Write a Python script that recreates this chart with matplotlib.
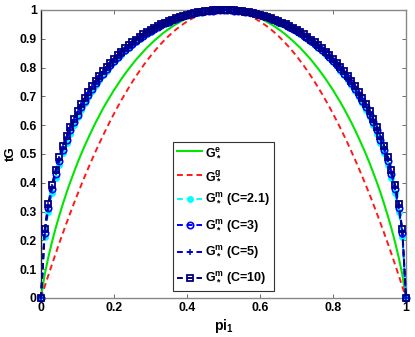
import numpy as np
import matplotlib
matplotlib.use("Agg")
import matplotlib.pyplot as plt

plt.rcParams['font.family'] = ['Liberation Sans', 'DejaVu Sans']
plt.rcParams['font.weight'] = 'bold'
plt.rcParams['mathtext.fontset'] = 'custom'
plt.rcParams['mathtext.rm'] = 'Liberation Sans:bold'
plt.rcParams['mathtext.bf'] = 'Liberation Sans:bold'
plt.rcParams['mathtext.it'] = 'Liberation Sans:bold'
plt.rcParams['mathtext.default'] = 'bf'

# x grid (pi_1)
pi1 = [i / 100 for i in range(101)]

# G_*^e
g_e = [0, 0.081, 0.141, 0.194, 0.242, 0.286, 0.327, 0.366, 0.402, 0.436,
       0.469, 0.500, 0.529, 0.557, 0.584, 0.610, 0.634, 0.658, 0.680, 0.701,
       0.722, 0.741, 0.760, 0.778, 0.795, 0.811, 0.827, 0.841, 0.855, 0.869,
       0.881, 0.893, 0.904, 0.915, 0.925, 0.934, 0.943, 0.951, 0.958, 0.965,
       0.971, 0.977, 0.981, 0.986, 0.990, 0.993, 0.995, 0.997, 0.999, 1.000,
       1.000,
       1.000, 0.999, 0.997, 0.995, 0.993, 0.990, 0.986, 0.981, 0.977, 0.971,
       0.965, 0.958, 0.951, 0.943, 0.934, 0.925, 0.915, 0.904, 0.893, 0.881,
       0.869, 0.855, 0.841, 0.827, 0.811, 0.795, 0.778, 0.760, 0.741, 0.722,
       0.701, 0.680, 0.658, 0.634, 0.610, 0.584, 0.557, 0.529, 0.500, 0.469,
       0.436, 0.402, 0.366, 0.327, 0.286, 0.242, 0.194, 0.141, 0.081, 0]

# G_*^g
g_g = [0, 0.0396, 0.0784, 0.1164, 0.1536, 0.19, 0.2256, 0.2604, 0.2944, 0.3276,
       0.36, 0.3916, 0.4224, 0.4524, 0.4816, 0.51, 0.5376, 0.5644, 0.5904, 0.6156,
       0.64, 0.6636, 0.6864, 0.7084, 0.7296, 0.75, 0.7696, 0.7884, 0.8064, 0.8236,
       0.84, 0.8556, 0.8704, 0.8844, 0.8976, 0.91, 0.9216, 0.9324, 0.9424, 0.9516,
       0.96, 0.9676, 0.9744, 0.9804, 0.9856, 0.99, 0.9936, 0.9964, 0.9984, 0.9996,
       1.0,
       0.9996, 0.9984, 0.9964, 0.9936, 0.99, 0.9856, 0.9804, 0.9744, 0.9676, 0.96,
       0.9516, 0.9424, 0.9324, 0.9216, 0.91, 0.8976, 0.8844, 0.8704, 0.8556, 0.84,
       0.8236, 0.8064, 0.7884, 0.7696, 0.75, 0.7296, 0.7084, 0.6864, 0.6636, 0.64,
       0.6156, 0.5904, 0.5644, 0.5376, 0.51, 0.4816, 0.4524, 0.4224, 0.3916, 0.36,
       0.3276, 0.2944, 0.2604, 0.2256, 0.19, 0.1536, 0.1164, 0.0784, 0.0396, 0]

# G_*^m (C=2.1)
g_m21 = [0, 0.213, 0.300, 0.365, 0.418, 0.463, 0.503, 0.539, 0.571, 0.601,
         0.628, 0.653, 0.676, 0.698, 0.719, 0.738, 0.756, 0.773, 0.789, 0.804,
         0.818, 0.832, 0.845, 0.857, 0.868, 0.879, 0.890, 0.899, 0.908, 0.917,
         0.925, 0.933, 0.940, 0.947, 0.953, 0.959, 0.964, 0.969, 0.974, 0.978,
         0.982, 0.985, 0.989, 0.991, 0.994, 0.996, 0.997, 0.998, 0.999, 1.000,
         1.000,
         1.000, 0.999, 0.998, 0.997, 0.996, 0.994, 0.991, 0.989, 0.985, 0.982,
         0.978, 0.974, 0.969, 0.964, 0.959, 0.953, 0.947, 0.940, 0.933, 0.925,
         0.917, 0.908, 0.899, 0.890, 0.879, 0.868, 0.857, 0.845, 0.832, 0.818,
         0.804, 0.789, 0.773, 0.756, 0.738, 0.719, 0.698, 0.676, 0.653, 0.628,
         0.601, 0.571, 0.539, 0.503, 0.463, 0.418, 0.365, 0.300, 0.213, 0]

# G_*^m (C=3)
g_m3 = [0, 0.224, 0.312, 0.377, 0.430, 0.475, 0.515, 0.550, 0.582, 0.611,
        0.637, 0.662, 0.685, 0.706, 0.726, 0.745, 0.763, 0.779, 0.795, 0.810,
        0.824, 0.837, 0.849, 0.861, 0.872, 0.883, 0.893, 0.902, 0.911, 0.920,
        0.928, 0.935, 0.942, 0.948, 0.955, 0.960, 0.965, 0.970, 0.975, 0.979,
        0.983, 0.986, 0.989, 0.992, 0.994, 0.996, 0.997, 0.998, 0.999, 1.000,
        1.000,
        1.000, 0.999, 0.998, 0.997, 0.996, 0.994, 0.992, 0.989, 0.986, 0.983,
        0.979, 0.975, 0.970, 0.965, 0.960, 0.955, 0.948, 0.942, 0.935, 0.928,
        0.920, 0.911, 0.902, 0.893, 0.883, 0.872, 0.861, 0.849, 0.837, 0.824,
        0.810, 0.795, 0.779, 0.763, 0.745, 0.726, 0.706, 0.685, 0.662, 0.637,
        0.611, 0.582, 0.550, 0.515, 0.475, 0.430, 0.377, 0.312, 0.224, 0]

# G_*^m (C=5)
g_m5 = [0, 0.232, 0.322, 0.387, 0.439, 0.484, 0.523, 0.558, 0.590, 0.618,
        0.645, 0.669, 0.691, 0.713, 0.732, 0.751, 0.768, 0.784, 0.800, 0.814,
        0.828, 0.841, 0.853, 0.865, 0.875, 0.886, 0.896, 0.905, 0.913, 0.922,
        0.929, 0.937, 0.943, 0.950, 0.956, 0.961, 0.966, 0.971, 0.975, 0.979,
        0.983, 0.986, 0.989, 0.992, 0.994, 0.996, 0.997, 0.998, 0.999, 1.000,
        1.000,
        1.000, 0.999, 0.998, 0.997, 0.996, 0.994, 0.992, 0.989, 0.986, 0.983,
        0.979, 0.975, 0.971, 0.966, 0.961, 0.956, 0.950, 0.943, 0.937, 0.929,
        0.922, 0.913, 0.905, 0.896, 0.886, 0.875, 0.865, 0.853, 0.841, 0.828,
        0.814, 0.800, 0.784, 0.768, 0.751, 0.732, 0.713, 0.691, 0.669, 0.645,
        0.618, 0.590, 0.558, 0.523, 0.484, 0.439, 0.387, 0.322, 0.232, 0]

# G_*^m (C=10)
g_m10 = [0, 0.238, 0.328, 0.393, 0.446, 0.490, 0.529, 0.564, 0.595, 0.623,
         0.649, 0.674, 0.696, 0.717, 0.736, 0.754, 0.771, 0.788, 0.803, 0.817,
         0.831, 0.843, 0.855, 0.867, 0.877, 0.888, 0.897, 0.906, 0.915, 0.923,
         0.931, 0.938, 0.944, 0.951, 0.956, 0.962, 0.967, 0.972, 0.976, 0.980,
         0.983, 0.987, 0.989, 0.992, 0.994, 0.996, 0.997, 0.999, 0.999, 1.000,
         1.000,
         1.000, 0.999, 0.999, 0.997, 0.996, 0.994, 0.992, 0.989, 0.987, 0.983,
         0.980, 0.976, 0.972, 0.967, 0.962, 0.956, 0.951, 0.944, 0.938, 0.931,
         0.923, 0.915, 0.906, 0.897, 0.888, 0.877, 0.867, 0.855, 0.843, 0.831,
         0.817, 0.803, 0.788, 0.771, 0.754, 0.736, 0.717, 0.696, 0.674, 0.649,
         0.623, 0.595, 0.564, 0.529, 0.490, 0.446, 0.393, 0.328, 0.238, 0]

xticks = [0, 0.2, 0.4, 0.6, 0.8, 1]
xticklabels = ['0', '0.2', '0.4', '0.6', '0.8', '1']
yticks = [0, 0.1, 0.2, 0.3, 0.4, 0.5, 0.6, 0.7, 0.8, 0.9, 1]
yticklabels = ['0', '0.1', '0.2', '0.3', '0.4', '0.5', '0.6', '0.7', '0.8', '0.9', '1']

fig = plt.figure(figsize=(4.15, 3.37), dpi=100)
ax = fig.add_axes([41 / 415, 1 - 298 / 337, 365 / 415, 288 / 337])

dash = (3.0, 2.0)
ax.plot(pi1, g_e, color='#00e600', lw=1.5, label=r'$G_*^e$', zorder=3)
ax.plot(pi1, g_g, color='#ff1a1a', lw=1.4, dashes=dash, label=r'$G_*^g$', zorder=3)
ax.plot(pi1, g_m21, color='#00ffff', lw=1.4, dashes=dash, marker='o', ms=4.0,
        mfc='#00ffff', mec='#00ffff', label=r'$G_*^m$ (C=2.1)', zorder=4, clip_on=False)
ax.plot(pi1, g_m3, color='#0000ff', lw=1.4, dashes=dash, marker='o', ms=4.6,
        mfc='none', mec='#0000ff', mew=1.2, label=r'$G_*^m$ (C=3)', zorder=5, clip_on=False)
ax.plot(pi1, g_m5, color='#0000cc', lw=1.4, dashes=dash, marker='+', ms=4.6,
        mec='#0000cc', mew=1.1, label=r'$G_*^m$ (C=5)', zorder=6, clip_on=False)
ax.plot(pi1, g_m10, color='#000080', lw=1.4, dashes=dash, marker='s', ms=4.4,
        mfc='none', mec='#000080', mew=1.3, label=r'$G_*^m$ (C=10)', zorder=7, clip_on=False)

ax.set_xlim(0, 1)
ax.set_ylim(0, 1)
ax.set_xticks(xticks)
ax.set_xticklabels(xticklabels)
ax.set_yticks(yticks)
ax.set_yticklabels(yticklabels)
ax.tick_params(direction='in', top=True, right=True, length=3, width=0.6,
               labelsize=8.8, pad=3, color='#555555')
for lab in ax.get_xticklabels() + ax.get_yticklabels():
    lab.set_fontweight('bold')
for s in ['top', 'right', 'bottom']:
    ax.spines[s].set_color('#888888')
    ax.spines[s].set_linewidth(1.0)
ax.spines['left'].set_color('#222222')
ax.spines['left'].set_linewidth(1.0)

ax.set_xlabel(r'$pi_1$', fontsize=10, labelpad=2)
ax.set_ylabel('tG', fontsize=9.5, fontweight='bold', labelpad=2)

leg = ax.legend(loc='upper left', bbox_to_anchor=((173 - 41) / 365, (298 - 142) / 288),
                borderaxespad=0, fancybox=False, framealpha=1, edgecolor='#333333',
                fontsize=9, handlelength=2.0, numpoints=1, labelspacing=0.78,
                handletextpad=0.2, borderpad=0.33)
leg.get_frame().set_linewidth(0.8)
for t in leg.get_texts():
    t.set_fontweight('bold')

fig.savefig('out.png', dpi=100)
